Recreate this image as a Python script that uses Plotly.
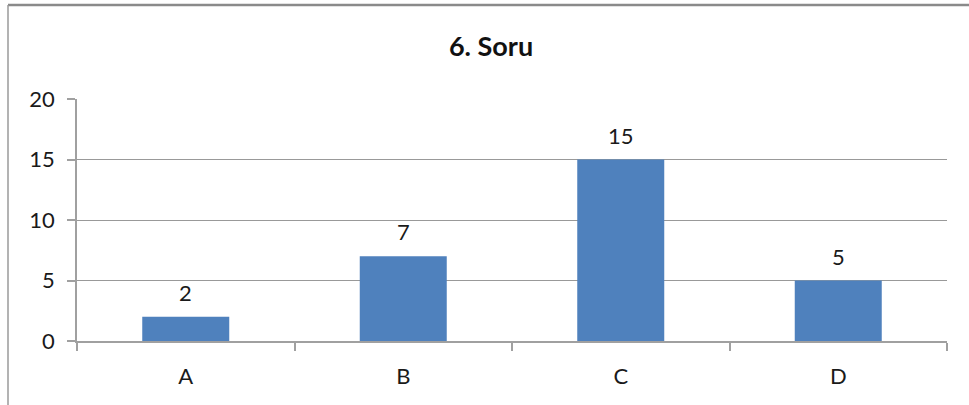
import plotly.graph_objects as go

categories = ["A", "B", "C", "D"]
values = [2, 7, 15, 5]
y_ticks = [0, 5, 10, 15, 20]
title_text = "6. Soru"

W, H = 969, 405
L, R, T, B = 77, 22, 99, 64
pw = W - L - R
ph = H - T - B
FONT = "Lato, Open Sans, sans-serif"

fig = go.Figure(go.Bar(
    x=categories, y=values,
    marker=dict(color="#4F81BD", line=dict(width=0)),
    width=0.4,
    hoverinfo="skip",
))

for c, v in zip(categories, values):
    fig.add_annotation(x=c, y=v, text=str(v), showarrow=False,
                       yanchor="bottom", yshift=9,
                       font=dict(family=FONT, size=22, color="#1a1a1a"))

# chart border (top and left visible)
bx = (8 - L) / pw
by = (H - B - 5) / ph
fig.add_shape(type="line", xref="paper", yref="paper", x0=bx, x1=1.1, y0=by, y1=by,
              line=dict(color="#8a8a8a", width=2.5))
fig.add_shape(type="line", xref="paper", yref="paper", x0=bx, x1=bx, y0=by, y1=-0.5,
              line=dict(color="#9a9a9a", width=1.5))

fig.update_layout(
    width=W, height=H,
    margin=dict(l=L, r=R, t=T, b=B),
    paper_bgcolor="white", plot_bgcolor="white",
    showlegend=False,
    title=dict(text="<b>" + title_text + "</b>", xref="container", x=491 / W, xanchor="center",
               yref="container", y=1 - 47 / H, yanchor="middle",
               font=dict(family=FONT, size=27, color="#111")),
    font=dict(family=FONT, size=22, color="#1a1a1a"),
    bargap=0.6,
)
fig.update_xaxes(
    type="category", showgrid=False, showline=True, linecolor="#a0a0a0", linewidth=1.5,
    ticks="outside", tickson="boundaries", ticklen=8, tickcolor="#a0a0a0", tickwidth=1.5,
    ticklabelstandoff=15, range=[-0.5, 3.5],
)
fig.update_yaxes(
    range=[0, 20], tickvals=y_ticks, showgrid=True, gridcolor="#999999", gridwidth=1,
    showline=True, linecolor="#a0a0a0", linewidth=1.5, zeroline=False,
    ticks="outside", ticklen=8, tickcolor="#a0a0a0", tickwidth=1.5,
    ticklabelstandoff=8,
)

fig.write_html("out.html", config={"displayModeBar": False},
               post_script="document.body.style.margin='0';")
